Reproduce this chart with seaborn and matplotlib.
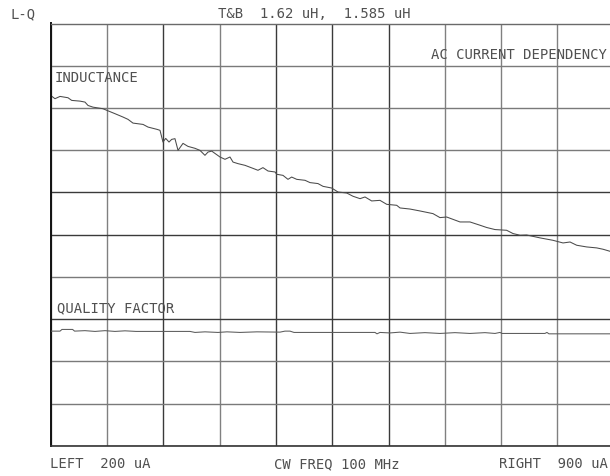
import numpy as np
import pandas as pd
import matplotlib
matplotlib.use("Agg")
import matplotlib.pyplot as plt
import seaborn as sns

# ---- data ----
# AC current sweep, 200 uA .. 900 uA
ind_current_ua = [200.0, 205.3, 211.6, 221.5, 226.1, 236.4, 242.6, 246.4, 252.6, 265.0,
                  270.0, 279.9, 289.9, 296.1, 302.3, 314.8, 321.0, 332.2, 335.9, 339.6,
                  343.0, 347.1, 350.4, 354.5, 358.3, 364.5, 370.7, 379.4, 385.6, 391.8,
                  395.6, 400.2, 410.5, 416.7, 422.9, 426.7, 432.9, 441.6, 451.5, 457.7,
                  463.9, 470.2, 478.9, 481.0, 488.8, 495.0, 499.6, 505.9, 516.2, 522.4,
                  532.3, 538.6, 549.4, 557.2, 568.0, 575.8, 584.6, 590.8, 599.1, 609.4,
                  617.8, 630.2, 634.3, 646.7, 659.2, 675.3, 684.0, 692.3, 708.9, 721.3,
                  733.7, 742.1, 752.4, 766.9, 774.8, 783.5, 791.8, 808.4, 824.5, 837.0,
                  845.7, 854.0, 866.4, 878.9, 886.7, 895.4]
inductance_uh = [1.61404, 1.61377, 1.61396, 1.61385, 1.61363, 1.61357, 1.61349, 1.61321, 1.61307, 1.61294,
                 1.61280, 1.61253, 1.61225, 1.61206, 1.61175, 1.61164, 1.61142, 1.61123, 1.61115, 1.61018,
                 1.61048, 1.61018, 1.61040, 1.61046, 1.60949, 1.61007, 1.60982, 1.60966, 1.60949, 1.60908,
                 1.60935, 1.60943, 1.60894, 1.60875, 1.60894, 1.60852, 1.60839, 1.60825, 1.60800, 1.60784,
                 1.60806, 1.60778, 1.60770, 1.60751, 1.60742, 1.60709, 1.60728, 1.60709, 1.60701, 1.60682,
                 1.60674, 1.60651, 1.60637, 1.60604, 1.60596, 1.60569, 1.60549, 1.60563, 1.60530, 1.60535,
                 1.60502, 1.60494, 1.60472, 1.60463, 1.60447, 1.60425, 1.60392, 1.60397, 1.60356, 1.60356,
                 1.60329, 1.60310, 1.60293, 1.60287, 1.60260, 1.60246, 1.60248, 1.60224, 1.60204, 1.60182,
                 1.60190, 1.60163, 1.60149, 1.60141, 1.60130, 1.60113]

q_current_ua = [200.0, 211.6, 214.0, 227.2, 229.7, 242.6, 255.1, 267.5, 279.9, 292.4,
                306.1, 373.2, 379.4, 391.8, 408.0, 419.2, 435.4, 456.5, 485.1, 491.3,
                497.5, 502.5, 603.2, 605.7, 609.4, 621.8, 634.3, 646.7, 665.3, 684.0,
                702.6, 721.3, 739.9, 752.4, 758.6, 761.1, 814.5, 817.0, 819.5, 895.4]
# quality factor trace, in screen divisions (0 = bottom, 10 = top)
q_trace_div = [2.719, 2.719, 2.759, 2.759, 2.719, 2.730, 2.712, 2.730, 2.712, 2.726,
               2.712, 2.712, 2.688, 2.702, 2.688, 2.702, 2.688, 2.702, 2.695, 2.719,
               2.719, 2.688, 2.688, 2.655, 2.688, 2.676, 2.695, 2.664, 2.683, 2.664,
               2.683, 2.664, 2.683, 2.664, 2.688, 2.664, 2.664, 2.688, 2.655, 2.655]

x_left_ua, x_right_ua = 200, 900
l_bottom_uh, l_top_uh = 1.585, 1.62
n_div = 10

title_text = "T&B  1.62 uH,  1.585 uH"
mode_text = "L-Q"
note_text = "AC CURRENT DEPENDENCY"
ind_label = "INDUCTANCE"
q_label = "QUALITY FACTOR"
left_text = "LEFT  200 uA"
center_text = "CW FREQ 100 MHz"
right_text = "RIGHT  900 uA"

ind_df = pd.DataFrame({"current": ind_current_ua, "L": inductance_uh})
q_df = pd.DataFrame({"current": q_current_ua, "Q": q_trace_div})

# ---- figure ----
sns.set_style("white")
plt.rcParams["font.family"] = ["DejaVu Sans Mono", "DejaVu Sans"]

W, H = 610, 476
fig = plt.figure(figsize=(W / 100, H / 100), dpi=100)
fig.patch.set_facecolor("white")

ax = fig.add_axes([50.7 / W, 1 - 446 / H, 563 / W, 422.5 / H])
ax.set_facecolor("white")
ax.set_xlim(x_left_ua, x_right_ua)
ax.set_ylim(l_bottom_uh, l_top_uh)
ax.set_xticks(np.linspace(x_left_ua, x_right_ua, n_div + 1))
ax.set_yticks(np.linspace(l_bottom_uh, l_top_uh, n_div + 1))
ax.tick_params(length=0, labelbottom=False, labelleft=False)
ax.grid(True, color="#666666", lw=1.0)

dark_v = {2, 4, 5, 6}
for i, gl in enumerate(ax.xaxis.get_gridlines()):
    gl.set_color("#3a3a3a" if i in dark_v else "#808080")
dark_h = {3, 5, 6}
for i, gl in enumerate(ax.yaxis.get_gridlines()):
    gl.set_color("#3a3a3a" if i in dark_h else "#7a7a7a")

for side, spine in ax.spines.items():
    spine.set_visible(True)
ax.spines["left"].set_color("#111111")
ax.spines["left"].set_linewidth(1.4)
ax.spines["bottom"].set_color("#333333")
ax.spines["bottom"].set_linewidth(1.2)
ax.spines["top"].set_color("#6a6a6a")
ax.spines["top"].set_linewidth(1.0)
ax.spines["right"].set_visible(False)

sns.lineplot(data=ind_df, x="current", y="L", ax=ax, color="#4a4a4a",
             lw=0.75, estimator=None, sort=False)
ax.set_xlabel("")
ax.set_ylabel("")

ax2 = ax.twinx()
ax2.set_ylim(0, n_div)
sns.lineplot(data=q_df, x="current", y="Q", ax=ax2, color="#5a5a5a",
             lw=0.75, estimator=None, sort=False)
ax2.set_xlim(x_left_ua, x_right_ua)
ax2.set_axis_off()

# ---- texts ----
tc = "#505050"
fs = 10

def ftext(x, y, s, ha="left"):
    fig.text(x / W, 1 - y / H, s, ha=ha, va="center", fontsize=fs, color=tc)

ftext(10, 14, mode_text)
ftext(314.5, 14, title_text, ha="center")
ftext(607, 55, note_text, ha="right")
ftext(55, 78, ind_label)
ftext(57, 308, q_label)
ftext(50, 464, left_text)
ftext(337, 464, center_text, ha="center")
ftext(608, 464, right_text, ha="right")

fig.savefig("out.png", dpi=100, facecolor="white")
